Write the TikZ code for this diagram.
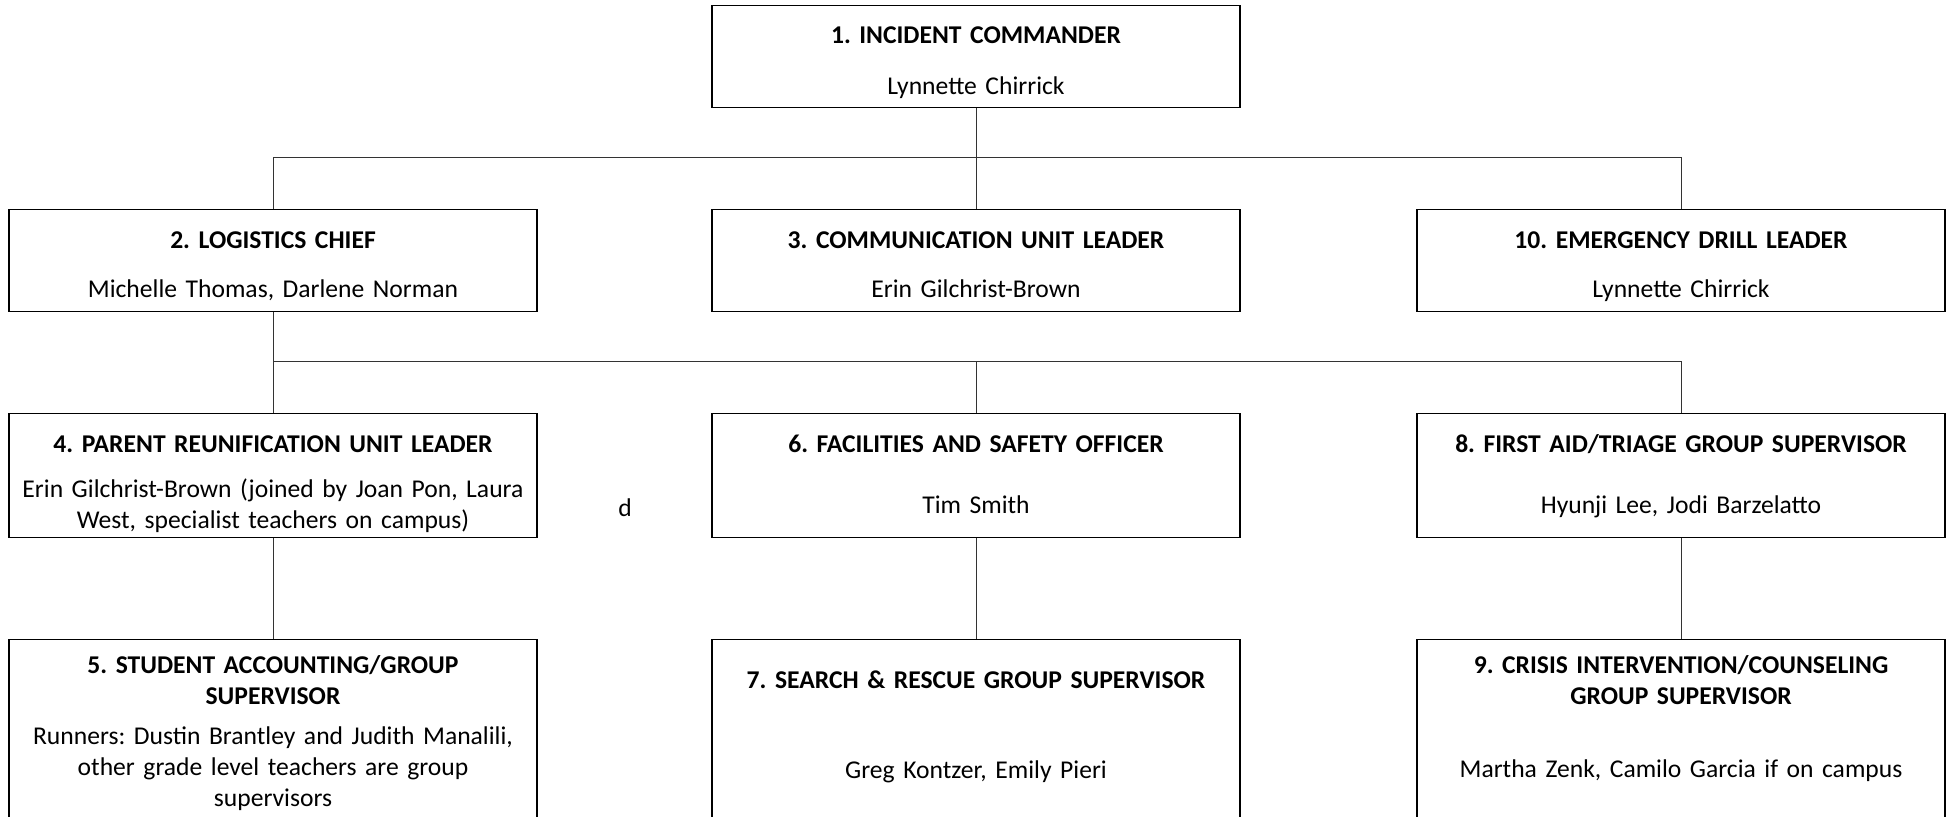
\documentclass[tikz,border=0pt]{standalone}
\usepackage{fontspec}
\setmainfont{Carlito}
\frenchspacing

\begin{document}
\begin{tikzpicture}[x=0.5pt,y=-0.5pt,semithick,
		font=\fontsize{12.8pt}{15.5pt}\selectfont]
		\tikzstyle{box}=[draw=black,line width=0.7pt,anchor=north,inner sep=0pt,
			text width=264pt,align=center]
		\tikzstyle{link}=[draw=black!80,line width=0.5pt]
		\tikzstyle{rowa}=[text height=19pt,text depth=32pt]
		\tikzstyle{rowb}=[text height=19.5pt,text depth=31.5pt]
		\tikzstyle{rowc}=[text height=19.5pt,text depth=42.5pt]
		
		\useasboundingbox (0,0) rectangle (1949,817);
		\clip (0,0) rectangle (1949,817);
		
		\node[box,rowa] (1) at (976,5) {\textbf{1. INCIDENT COMMANDER}\\[10pt]Lynnette Chirrick};
		
		\node[box,rowb] (2) at (273,209) {\textbf{2. LOGISTICS CHIEF}\\[9pt]Michelle Thomas, Darlene Norman};
		\node[box,rowb] (3) at (976,209) {\textbf{3. COMMUNICATION UNIT LEADER}\\[9pt]Erin Gilchrist-Brown};
		\node[box,rowb] (10) at (1681,209) {\textbf{10. EMERGENCY DRILL LEADER}\\[9pt]Lynnette Chirrick};
		
		\node[box,rowc] (4) at (273,413) {\textbf{4. PARENT REUNIFICATION UNIT LEADER}\\[7pt]Erin Gilchrist-Brown (joined by Joan Pon, Laura\\West, specialist teachers on campus)};
		\node[box,rowc] (6) at (976,413) {\textbf{6. FACILITIES AND SAFETY OFFICER}\\[15pt]Tim Smith};
		\node[box,rowc] (8) at (1681,413) {\textbf{8. FIRST AID/TRIAGE GROUP SUPERVISOR}\\[15pt]Hyunji Lee, Jodi Barzelatto};
		\node (d) at (625,508) {d};
		
		\node[box,text height=17pt,text depth=83pt] (5) at (273,639) {\textbf{5. STUDENT ACCOUNTING/GROUP}\\\textbf{SUPERVISOR}\\[4.5pt]Runners: Dustin Brantley and Judith Manalili,\\other grade level teachers are group\\supervisors};
		\node[box,text height=24.5pt,text depth=75.5pt] (7) at (976,639) {\textbf{7. SEARCH \& RESCUE GROUP SUPERVISOR}\\[29.5pt]Greg Kontzer, Emily Pieri};
		\node[box,text height=17pt,text depth=83pt] (9) at (1681,639) {\textbf{9. CRISIS INTERVENTION/COUNSELING}\\\textbf{GROUP SUPERVISOR}\\[21pt]Martha Zenk, Camilo Garcia if on campus};
		
		\path[link]
		(1.south) edge (3.north)
		(2.south) edge (4.north)
		(4.south) edge (5.north)
		(6.south) edge (7.north)
		(8.south) edge (9.north);
		\draw[link] (2.north) -- ++(0,25.5pt) -| (10.north);
		\draw[link] (4.north) -- ++(0,25.5pt) -| (8.north);
		\draw[link] (6.north) -- ++(0,25.5pt);
		\end{tikzpicture}
\end{document}
